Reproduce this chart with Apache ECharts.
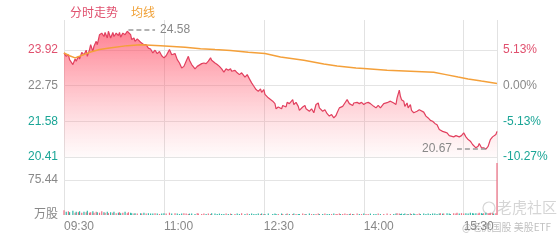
<!DOCTYPE html>
<html><head><meta charset="utf-8">
<script src="https://cdn.jsdelivr.net/npm/echarts@6/dist/echarts.min.js"></script>
<style>html,body{margin:0;padding:0;background:#fff}#c{width:560px;height:240px}</style>
</head><body><div id="c"></div>
<script>
const prevClose = 22.75;
const priceTicks = [20.41, 21.58, 22.75, 23.92];
const pctTickLabels = ['-10.27%', '-5.13%', '0.00%', '5.13%'];
const volTicks = [0, 75.44];
const volTickLabels = ['万股', '75.44'];
const timeTickLabels = ['09:30', '11:00', '12:30', '14:00', '15:30'];

// minutes after 09:30
const minuteTimes = [
  0,2,4,5,8,10,11,13,14,16, 18,20,21,23,24,26,27,29,30,32,
  34,36,37,39,40,42,44,45,47,49, 50,51,53,55,57,58,60,61,63,64,
  66,69,70,72,74,76,78,80,82,84, 86,88,90,92,95,97,100,102,104,106,
  108,110,112,113,115,118,120,121,124,126, 128,130,132,133,136,138,140,142,144,146,
  148,150,151,154,156,158,160,163,165,167, 169,171,173,175,177,178,180,181,184,188,
  190,191,193,196,197,200,201,203,206,207, 209,211,212,215,217,218,221,223,225,227,
  229,230,233,235,237,239,241,243,245,246, 248,249,251,253,255,257,258,260,261,264,
  266,268,270,272,274,276,279,281,283,285, 288,291,294,297,299,300,302,303,304,306,
  307,309,310,312,313,315,316,318,320,321, 324,326,328,330,332,334,336,338,339,341,
  342,345,347,348,351,353,354,356,358,360, 362,364,366,368,369,371,373,374,376,377,
  378,380,382,383,384,386,387,389,390
];
const prices = [
  23.82,23.71,23.76,23.60,23.44,23.62,23.55,23.71,23.62,23.84,
  23.76,23.91,23.71,23.93,24.09,23.87,24.04,24.20,24.09,24.42,
  24.47,24.36,24.49,24.31,24.53,24.31,24.49,24.36,24.47,24.39,
  24.49,24.34,24.47,24.42,24.53,24.58,24.42,24.26,24.31,24.20,
  24.28,24.17,24.23,24.09,24.09,23.98,23.95,23.82,23.91,23.80,
  23.87,23.73,23.66,23.73,23.93,23.76,23.80,23.60,23.49,23.33,
  23.38,23.55,23.71,23.58,23.44,23.30,23.38,23.44,23.47,23.49,
  23.47,23.55,23.66,23.58,23.49,23.44,23.38,23.30,23.19,23.30,
  23.25,23.30,23.22,23.25,23.17,23.11,23.17,23.03,23.11,22.97,
  22.84,22.73,22.62,22.56,22.64,22.53,22.62,22.46,22.35,22.24,
  22.16,21.99,22.05,21.99,22.10,22.05,22.20,22.16,22.29,22.13,
  22.20,22.07,21.94,22.05,22.10,21.99,21.91,21.99,21.86,22.13,
  22.18,22.02,21.91,21.96,21.83,21.75,21.80,21.69,21.77,21.86,
  22.02,21.96,22.07,22.18,22.29,22.16,22.20,22.10,22.18,22.20,
  22.16,22.20,22.13,22.18,22.20,22.16,22.07,22.02,22.10,22.02,
  22.16,22.19,22.24,22.18,22.13,22.35,22.60,22.40,22.29,22.24,
  22.07,22.18,22.02,22.13,21.94,21.86,21.80,21.91,21.96,21.91,
  21.88,21.75,21.69,21.61,21.58,21.51,21.47,21.31,21.37,21.25,
  21.31,21.20,21.11,21.07,21.07,21.11,21.15,21.07,21.11,21.20,
  21.07,20.98,20.93,20.82,20.76,20.71,20.76,20.85,20.71,20.68,
  20.71,20.67,20.76,20.87,20.98,21.07,21.04,21.15,21.25
];
// 万股, one per point above
const volumes = [
  10,7,8,6,9,5,7,6,8,5, 7,6,9,5,6,8,5,7,6,5,
  8,6,5,7,4,6,5,7,4,5, 6,4,5,7,4,6,5,4,3,4,
  3,4,3,5,3,4,3,3,4,3, 2,3,4,3,5,3,4,3,2,3,
  4,3,2,3,3,2,4,3,2,3, 2,3,2,4,3,2,3,2,2,3,
  2,3,2,2,3,2,4,2,3,2, 3,2,2,3,2,3,2,2,3,2,
  3,2,2,3,2,2,3,2,2,3, 2,2,2,3,2,2,3,2,2,2,
  3,2,2,3,2,2,2,3,2,2, 3,2,2,3,2,2,3,2,2,3,
  2,2,3,2,2,3,2,2,3,2, 2,3,2,2,3,4,3,2,3,2,
  3,2,2,3,2,3,2,2,3,2, 3,2,3,2,3,3,2,3,4,3,
  3,4,3,2,4,3,5,3,4,3, 4,3,5,4,3,4,3,5,4,3,
  4,5,3,4,5,4,3,4,112
];
const avgTimes = [0,5,10,14,19,24,32,41,57,69,87,109,123,136,150,166,181,195,216,234,246,263,270,291,312,333,344,355,364,376,390];
const avgPrices = [23.82,23.73,23.66,23.71,23.78,23.85,23.93,23.98,24.06,24.09,24.06,24.01,23.96,23.93,23.90,23.84,23.80,23.69,23.58,23.46,23.39,23.33,23.31,23.25,23.22,23.19,23.11,23.03,22.97,22.90,22.82];

const RED = '#e2405f', TEAL = '#1aa596', GREY = '#888';
const FONT = '"Liberation Sans", "Noto Sans CJK SC", sans-serif';
const priceData = minuteTimes.map((t, i) => [t, prices[i]]);
const avgData = avgTimes.map((t, i) => [t, avgPrices[i]]);
const volData = minuteTimes.map((t, i) => [t, volumes[i]]);
const volColors = prices.map((p, i) => (i === 0 || p >= prices[i - 1]) ? '#ee6f84' : '#2fb8a6');

let iMax = 0, iMin = 0;
prices.forEach((p, i) => { if (p > prices[iMax]) iMax = i; if (p < prices[iMin]) iMin = i; });
const pMax = prices[iMax], pMin = prices[iMin];

function labelColor(v) {
  v = Number(v);
  if (Math.abs(v - prevClose) < 1e-6) return GREY;
  return v > prevClose ? '#e0506e' : TEAL;
}
function timeLabel(v) {
  const i = Math.round(Number(v) / 90);
  return timeTickLabels[i] || '';
}

const chart = echarts.init(document.getElementById('c'), null, { renderer: 'canvas' });
chart.setOption({
  animation: false,
  textStyle: { fontFamily: FONT },
  legend: {
    left: 59, top: 3, itemWidth: 0, itemHeight: 0, itemGap: 7, selectedMode: false,
    textStyle: { fontSize: 12, fontFamily: FONT },
    data: [
      { name: '分时走势', textStyle: { color: '#e0506e' } },
      { name: '均线', textStyle: { color: '#f0a035' } }
    ]
  },
  grid: [
    { left: 64, right: 63, top: 20, height: 137 },
    { left: 64, right: 63, top: 157, height: 58 }
  ],
  xAxis: [
    { gridIndex: 0, type: 'value', min: 0, max: 390, interval: 90,
      axisLine: { show: false }, axisTick: { show: false }, axisLabel: { show: false },
      splitLine: { show: true, lineStyle: { color: '#e2e2e2', width: 1 } } },
    { gridIndex: 1, type: 'value', min: 0, max: 390, interval: 90,
      axisLine: { show: false }, axisTick: { show: false },
      axisLabel: { show: true, formatter: timeLabel, align: 'left', color: GREY, fontSize: 12, margin: 6, showMaxLabel: false, fontFamily: FONT },
      splitLine: { show: true, lineStyle: { color: '#e2e2e2', width: 1 } } }
  ],
  yAxis: [
    { gridIndex: 0, type: 'value', min: 20.41, max: 24.90, position: 'left',
      axisLine: { show: false }, axisTick: { show: false }, splitLine: { show: false },
      axisLabel: { customValues: priceTicks, formatter: v => Number(v).toFixed(2), color: labelColor, fontSize: 12, margin: 6, fontFamily: FONT } },
    { gridIndex: 0, type: 'value', min: 20.41, max: 24.90, position: 'right',
      axisLine: { show: false }, axisTick: { show: false }, splitLine: { show: false },
      axisLabel: { customValues: priceTicks, formatter: v => pctTickLabels[priceTicks.indexOf(Number(v))] || '', color: labelColor, fontSize: 12, margin: 6, fontFamily: FONT } },
    { gridIndex: 1, type: 'value', min: 0, max: 125, position: 'left',
      axisLine: { show: false }, axisTick: { show: false }, splitLine: { show: false },
      axisLabel: { customValues: volTicks, formatter: v => volTickLabels[volTicks.indexOf(Number(v))] || '', color: GREY, fontSize: 12, margin: 6, fontFamily: FONT, padding: [0, 0, 5, 0] } }
  ],
  series: [
    {
      name: '分时走势', type: 'line', xAxisIndex: 0, yAxisIndex: 0, data: priceData,
      showSymbol: false, symbol: 'none', silent: true,
      lineStyle: { color: RED, width: 1.2 }, itemStyle: { color: RED },
      areaStyle: { origin: 'start', color: new echarts.graphic.LinearGradient(0, 0, 0, 1, [
        { offset: 0, color: 'rgba(255,60,85,0.92)' },
        { offset: 0.5, color: 'rgba(255,95,115,0.50)' },
        { offset: 1, color: 'rgba(255,140,150,0.06)' }
      ]) },
      markLine: {
        silent: true, animation: false, symbol: ['none', 'none'],
        lineStyle: { color: '#999', type: [5, 3], width: 1.5 },
        label: { show: true, position: 'end', formatter: p => Number(p.value).toFixed(2), color: GREY, fontSize: 12, fontFamily: FONT, distance: 5 },
        data: [
          [ { coord: [minuteTimes[iMax], pMax], value: pMax }, { coord: [minuteTimes[iMax] + 24, pMax], value: pMax } ],
          [ { coord: [minuteTimes[iMin], pMin], value: pMin }, { coord: [minuteTimes[iMin] - 26, pMin], value: pMin } ]
        ]
      }
    },
    {
      name: '均线', type: 'line', xAxisIndex: 0, yAxisIndex: 0, data: avgData,
      showSymbol: false, symbol: 'none', silent: true,
      lineStyle: { color: '#f4a03a', width: 1.5 }, itemStyle: { color: '#f4a03a' },
      markLine: {
        silent: true, animation: false, symbol: ['none', 'none'], z: 1,
        lineStyle: { color: '#e4e4e4', type: 'solid', width: 1 },
        label: { show: false },
        data: priceTicks.map(v => ({ yAxis: v }))
      }
    },
    {
      name: '成交量', type: 'bar', xAxisIndex: 1, yAxisIndex: 2, data: volData,
      barWidth: 1.2, silent: true,
      itemStyle: { color: p => volColors[p.dataIndex] },
      markLine: {
        silent: true, animation: false, symbol: ['none', 'none'], z: 1,
        lineStyle: { color: '#e4e4e4', type: 'solid', width: 1 },
        label: { show: false },
        data: [{ yAxis: volTicks[1] }]
      }
    }
  ],
  graphic: [
    { type: 'circle', shape: { cx: 489, cy: 208, r: 6 }, style: { fill: 'none', stroke: 'rgba(185,185,185,0.6)', lineWidth: 1.2 }, silent: true },
    { type: 'text', left: 497, top: 200, style: { text: '老虎社区', fontSize: 15, fill: 'rgba(185,185,185,0.6)', fontFamily: '"Noto Sans CJK SC", sans-serif' }, silent: true },
    { type: 'text', left: 462, top: 222, style: { text: '@老虎国股 美股ETF', fontSize: 10, fill: 'rgba(165,165,165,0.7)', fontFamily: '"Noto Sans CJK SC", sans-serif' }, silent: true }
  ]
});
</script>
</body></html>
